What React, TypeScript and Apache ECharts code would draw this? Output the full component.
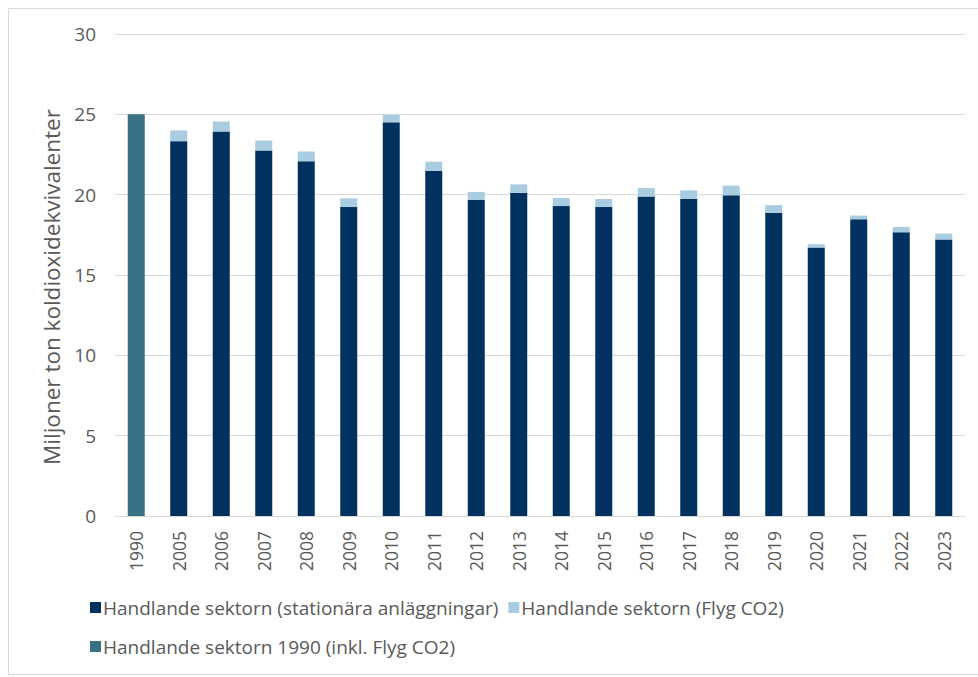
import React, { useEffect, useRef } from "react";
import * as echarts from "echarts";

// Years on the category axis
const years = [
  "1990", "2005", "2006", "2007", "2008", "2009", "2010", "2011", "2012", "2013",
  "2014", "2015", "2016", "2017", "2018", "2019", "2020", "2021", "2022", "2023",
];

// Stationary installations (Mt CO2e), no value for 1990
const stationary = [
  null, 23.33, 23.93, 22.75, 22.08, 19.23, 24.5, 21.49, 19.69, 20.11,
  19.29, 19.23, 19.88, 19.75, 19.96, 18.88, 16.71, 18.47, 17.66, 17.21,
];

// Aviation CO2 on top of the stationary part
const aviation = [
  null, 0.67, 0.62, 0.62, 0.61, 0.54, 0.47, 0.56, 0.48, 0.53,
  0.5, 0.5, 0.53, 0.52, 0.6, 0.47, 0.21, 0.23, 0.33, 0.37,
];

// 1990 base year total, aviation included
const base1990 = [
  25.0, null, null, null, null, null, null, null, null, null,
  null, null, null, null, null, null, null, null, null, null,
];

const yTicks = { min: 0, max: 30, interval: 5 };

const seriesNames = [
  "Handlande sektorn (stationära anläggningar)",
  "Handlande sektorn (Flyg CO2)",
  "Handlande sektorn 1990 (inkl. Flyg CO2)",
];

const FONT = "'Open Sans', 'Noto Sans', sans-serif";
const TEXT = "#595959";

export default function App() {
  const ref = useRef<HTMLDivElement>(null);

  useEffect(() => {
    if (!ref.current) return;
    const chart = echarts.init(ref.current, undefined, { renderer: "svg" });
    const toData = (arr: (number | null)[]) => arr.map((v) => (v == null ? "-" : v));
    const legendText = { fontFamily: FONT, fontSize: 19, color: TEXT, padding: [0, 0, 0, -3] };
    chart.setOption({
      animation: false,
      backgroundColor: "#ffffff",
      textStyle: { fontFamily: FONT, color: TEXT },
      graphic: [
        {
          type: "rect",
          shape: { x: 8.5, y: 8.5, width: 990, height: 666 },
          style: { fill: "none", stroke: "#d9d9d9", lineWidth: 1 },
          silent: true,
        },
      ],
      grid: { left: 115, right: 13, top: 34, bottom: 161, containLabel: false },
      legend: [
        {
          data: [seriesNames[0], seriesNames[1]],
          left: 85,
          top: 593,
          icon: "rect",
          itemWidth: 11,
          itemHeight: 11,
          itemGap: 10,
          textStyle: legendText,
        },
        {
          data: [seriesNames[2]],
          left: 85,
          top: 632,
          icon: "rect",
          itemWidth: 11,
          itemHeight: 11,
          textStyle: legendText,
        },
      ],
      xAxis: {
        type: "category",
        data: years,
        axisLine: { lineStyle: { color: "#d9d9d9", width: 1 } },
        axisTick: { show: false },
        axisLabel: {
          rotate: 90,
          margin: 15,
          fontFamily: FONT,
          fontSize: 17.5,
          color: TEXT,
          interval: 0,
        },
      },
      yAxis: {
        type: "value",
        min: yTicks.min,
        max: yTicks.max,
        interval: yTicks.interval,
        name: "Miljoner ton koldioxidekvivalenter",
        nameLocation: "middle",
        nameRotate: 90,
        nameGap: 50,
        nameTextStyle: { fontFamily: FONT, fontSize: 22.5, color: TEXT, padding: [0, 24, 0, 0] },
        axisLine: { show: false },
        axisTick: { show: false },
        splitLine: { lineStyle: { color: "#d9d9d9", width: 1 } },
        axisLabel: { fontFamily: FONT, fontSize: 19, color: TEXT, margin: 19 },
      },
      series: [
        {
          name: seriesNames[0],
          type: "bar",
          stack: "total",
          barWidth: 17,
          itemStyle: { color: "#00315f" },
          data: toData(stationary),
        },
        {
          name: seriesNames[1],
          type: "bar",
          stack: "total",
          barWidth: 17,
          itemStyle: { color: "#a9cce0" },
          data: toData(aviation),
        },
        {
          name: seriesNames[2],
          type: "bar",
          stack: "total",
          barWidth: 17,
          itemStyle: { color: "#3a7185" },
          data: toData(base1990),
        },
      ],
    });
    return () => chart.dispose();
  }, []);

  return <div ref={ref} style={{ width: 978, height: 677, position: "absolute", left: 0, top: 0 }} />;
}
